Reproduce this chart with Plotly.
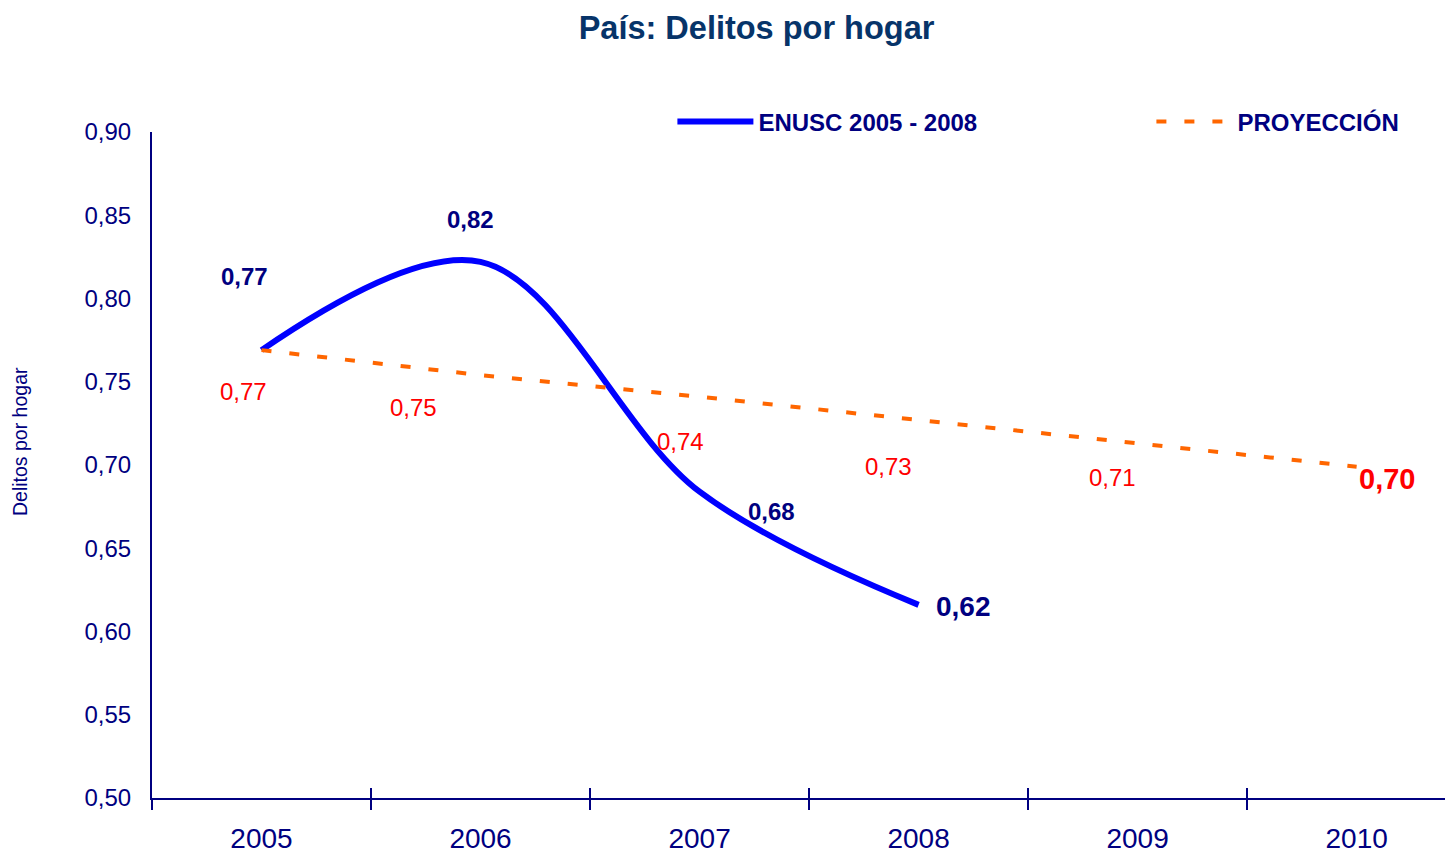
import plotly.graph_objects as go

# ---- data ----
years = [2005, 2006, 2007, 2008, 2009, 2010]
enusc_years = [2005, 2006, 2007, 2008]
enusc_values = [0.769, 0.822, 0.684, 0.616]
proj_years = [2005, 2006, 2007, 2008, 2009, 2010]
proj_values = [0.769, 0.754, 0.741, 0.727, 0.713, 0.699]
year_labels = [str(y) for y in years]
boundaries = [y - 0.5 for y in years]

NAVY = "#000080"
TITLE_C = "#073469"
BLUE = "#0000FF"
ORANGE = "#FF6600"
RED = "#FF0000"
FONT = "Liberation Sans, Arial, sans-serif"

W, H = 1445, 846          # page body has an 8px margin
ML, MR, MT, MB = 144, 0, 124, 56
X_RANGE = [2004.5, 2010.44]


def fmt(v):
    return f"{v:.2f}".replace(".", ",")


fig = go.Figure()
fig.add_trace(go.Scatter(
    x=enusc_years, y=enusc_values, mode="lines", name="<b>ENUSC 2005 - 2008</b>",
    line=dict(color=BLUE, width=6, shape="spline", smoothing=1.0),
    legendwidth=388, hoverinfo="skip"))
fig.add_trace(go.Scatter(
    x=proj_years, y=proj_values, mode="lines", name="<b>PROYECCIÓN</b>",
    xaxis="x2",
    line=dict(color=ORANGE, width=4, dash="10px,18px"),
    legendwidth=170, hoverinfo="skip"))

# label offsets (styling only)
blue_shift = [(-17, 74, 24), (-10, 42, 24), (72, -20, 24), (45, -2, 28)]
red_shift = [(-18, -41, 24, False), (-67, -32, 24, False), (-19, -45, 24, False),
             (-30, -46, 24, False), (-25, -34, 24, False), (30, -12, 29, True)]

for (x, v), (dx, dy, fs) in zip(zip(enusc_years, enusc_values), blue_shift):
    fig.add_annotation(x=x, y=v, text=f"<b>{fmt(v)}</b>", showarrow=False,
                       xshift=dx, yshift=dy, font=dict(color=NAVY, size=fs, family=FONT))
for (x, v), (dx, dy, fs, b) in zip(zip(proj_years, proj_values), red_shift):
    t = f"<b>{fmt(v)}</b>" if b else fmt(v)
    fig.add_annotation(x=x, y=v, text=t, showarrow=False,
                       xshift=dx, yshift=dy, font=dict(color=RED, size=fs, family=FONT))

# y-axis title (placed as rotated text, slightly above centre like the reference)
fig.add_annotation(text="Delitos por hogar", xref="paper", yref="paper",
                   x=0, y=0.5345, xanchor="center", yanchor="middle",
                   xshift=-132, textangle=-90, showarrow=False,
                   font=dict(size=19.5, color=NAVY, family=FONT))

fig.update_layout(
    width=W, height=H,
    margin=dict(l=ML, r=MR, t=MT, b=MB),
    paper_bgcolor="white", plot_bgcolor="white",
    separators=",.",
    font=dict(family=FONT, color=NAVY),
    title=dict(text="<b>País: Delitos por hogar</b>", x=0.518, xref="container",
               xanchor="center", y=1 - 20 / H, yref="container", yanchor="middle",
               font=dict(size=32.5, color=TITLE_C, family=FONT)),
    showlegend=True,
    legend=dict(orientation="h", x=0.40, xanchor="left", y=1.015, yanchor="middle",
                yref="paper", itemwidth=76,
                font=dict(size=24, color=NAVY, family=FONT),
                bgcolor="rgba(0,0,0,0)"),
    xaxis=dict(
        type="linear", range=X_RANGE,
        tickmode="array", tickvals=years, ticktext=year_labels,
        ticks="", showgrid=False, zeroline=False,
        showline=True, linecolor=NAVY, linewidth=2,
        tickfont=dict(size=28, color=NAVY, family=FONT),
        ticklabelstandoff=14, automargin=False,
        minor=dict(tickmode="array", tickvals=boundaries, ticks="outside",
                   ticklen=10, tickwidth=2, tickcolor=NAVY, showgrid=False),
    ),
    xaxis2=dict(
        type="linear", overlaying="x", anchor="y", side="bottom", matches="x",
        range=X_RANGE, tickmode="array", tickvals=boundaries,
        ticks="inside", ticklen=10, tickwidth=2, tickcolor=NAVY,
        showticklabels=False, showgrid=False, zeroline=False, showline=False,
        automargin=False,
    ),
    yaxis=dict(
        range=[0.5, 0.9], dtick=0.05, tick0=0.5, tickformat=".2f",
        showgrid=False, zeroline=False, ticks="",
        showline=True, linecolor=NAVY, linewidth=2,
        tickfont=dict(size=24, color=NAVY, family=FONT),
        ticklabelstandoff=14, automargin=False,
    ),
)

fig.write_html("out.html")
